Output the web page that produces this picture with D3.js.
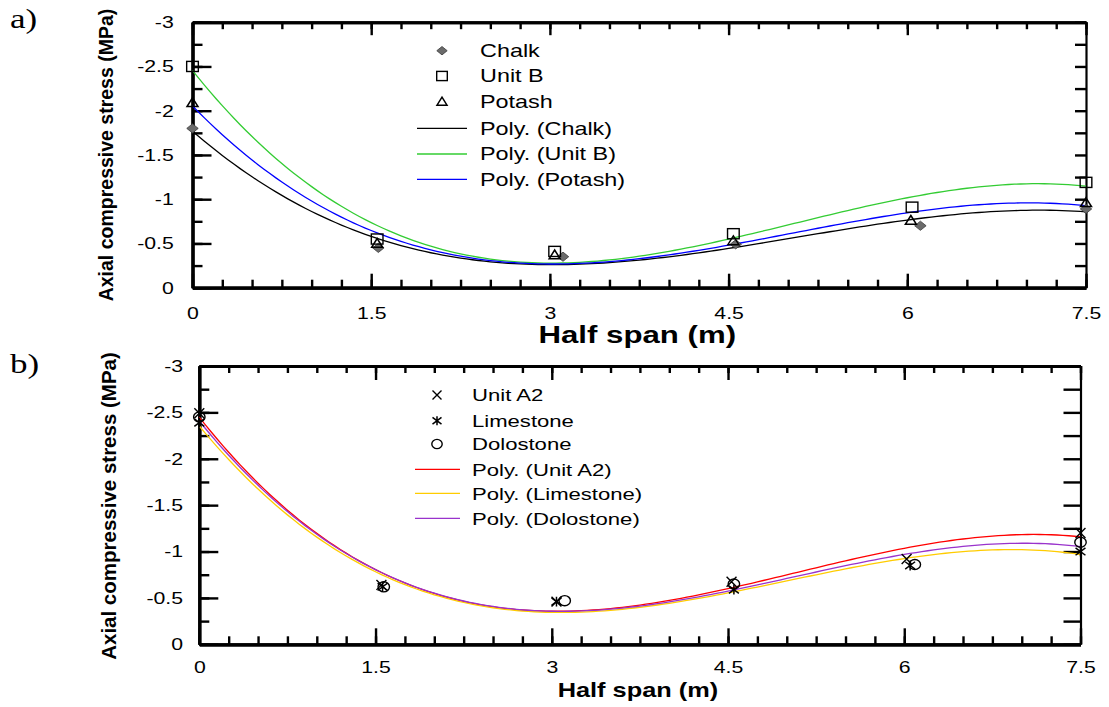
<!DOCTYPE html>
<html>
<head>
<meta charset="utf-8">
<script src="https://cdn.jsdelivr.net/npm/d3@7"></script>
<style>
  html, body { margin: 0; padding: 0; background: #fff; }
  svg { display: block; }
  text { font-family: "Liberation Sans", Arial, sans-serif; fill: #000; }
</style>
</head>
<body>
<svg id="chart" width="1109" height="707"></svg>
<script>
// ---- Panel a) : measured stress at each half-span station ----
const chalkX  = [0, 1.56, 3.11, 4.56, 6.11, 7.5];
const chalkY  = [-1.80, -0.45, -0.35, -0.49, -0.70, -0.89];
const unitBX  = [0, 1.55, 3.04, 4.54, 6.04, 7.5];
const unitBY  = [-2.50, -0.55, -0.41, -0.61, -0.91, -1.19];
const potashX = [0, 1.55, 3.04, 4.54, 6.03, 7.5];
const potashY = [-2.09, -0.50, -0.37, -0.53, -0.76, -0.96];

// ---- Panel b) ----
const unitA2X    = [0, 1.55, 3.04, 4.53, 6.02, 7.5];
const unitA2Y    = [-2.49, -0.64, -0.46, -0.675, -0.92, -1.20];
const limestoneX = [0, 1.56, 3.04, 4.55, 6.05, 7.5];
const limestoneY = [-2.39, -0.62, -0.46, -0.59, -0.85, -1.00];
const dolostoneX = [0, 1.57, 3.11, 4.55, 6.09, 7.5];
const dolostoneY = [-2.45, -0.62, -0.47, -0.65, -0.86, -1.10];

// ---- Axis ticks ----
const xTickValues = [0, 1.5, 3, 4.5, 6, 7.5];
const xTickLabels = ["0", "1.5", "3", "4.5", "6", "7.5"];
const yTickValues = [0, -0.5, -1, -1.5, -2, -2.5, -3];
const yTickLabels = ["0", "-0.5", "-1", "-1.5", "-2", "-2.5", "-3"];

const svg = d3.select("#chart");

// least-squares polynomial (Excel style "Poly." trendline)
function polyfit(xs, ys, deg) {
  const n = deg + 1;
  const A = Array.from({length: n}, () => new Array(n + 1).fill(0));
  for (let k = 0; k < xs.length; k++) {
    for (let i = 0; i < n; i++) {
      for (let j = 0; j < n; j++) A[i][j] += Math.pow(xs[k], i + j);
      A[i][n] += ys[k] * Math.pow(xs[k], i);
    }
  }
  for (let c = 0; c < n; c++) {
    let p = c;
    for (let r = c + 1; r < n; r++) if (Math.abs(A[r][c]) > Math.abs(A[p][c])) p = r;
    [A[c], A[p]] = [A[p], A[c]];
    for (let r = 0; r < n; r++) {
      if (r === c) continue;
      const f = A[r][c] / A[c][c];
      for (let j = c; j <= n; j++) A[r][j] -= f * A[c][j];
    }
  }
  const coef = A.map((row, i) => row[n] / row[i]);
  return x => coef.reduce((s, c, i) => s + c * Math.pow(x, i), 0);
}

// marker shapes drawn around (0,0)
function drawMarker(g, type, s) {
  if (type === "diamond") {
    g.append("path").attr("d", `M0,${-s*0.42}L${s*0.52},0L0,${s*0.42}L${-s*0.52},0Z`)
      .attr("fill", "#6b6b6b").attr("stroke", "#3a3a3a").attr("stroke-width", 0.8);
  } else if (type === "square") {
    g.append("rect").attr("x", -s*0.53).attr("y", -s*0.46).attr("width", s*1.06).attr("height", s*0.92)
      .attr("fill", "none").attr("stroke", "#000").attr("stroke-width", 1.4);
  } else if (type === "triangle") {
    g.append("path").attr("d", `M0,${-s*0.45}L${s*0.5},${s*0.35}L${-s*0.5},${s*0.35}Z`)
      .attr("fill", "none").attr("stroke", "#000").attr("stroke-width", 1.5);
  } else if (type === "cross") {
    const h = s * 0.45;
    g.append("path").attr("d", `M${-h},${-h}L${h},${h}M${-h},${h}L${h},${-h}`)
      .attr("stroke", "#000").attr("stroke-width", 1.4).attr("fill", "none");
  } else if (type === "star") {
    const h = s * 0.45;
    g.append("path").attr("d", `M${-h},${-h*0.75}L${h},${h*0.75}M${-h},${h*0.75}L${h},${-h*0.75}M0,${-h}L0,${h}`)
      .attr("stroke", "#000").attr("stroke-width", 1.5).attr("fill", "none");
  } else if (type === "circle") {
    g.append("ellipse").attr("rx", s*0.52).attr("ry", s*0.46)
      .attr("fill", "none").attr("stroke", "#000").attr("stroke-width", 1.4);
  }
}

function drawPanel(cfg) {
  const x = d3.scaleLinear().domain([0, 7.5]).range([cfg.left, cfg.right]);
  const y = d3.scaleLinear().domain([0, -3]).range([cfg.bottom, cfg.top]);
  const g = svg.append("g");
  const minorX = d3.range(0, 7.5001, 0.25);
  const minorY = d3.range(0, -3.0001, -0.25);
  const sx = 1.25;

  function styleAxis(sel, w) {
    sel.select(".domain").attr("stroke", "#000").attr("stroke-width", w);
    sel.selectAll(".tick line").attr("stroke", "#000").attr("stroke-width", 2.4);
  }

  // bottom axis: minor + major with labels
  g.append("g").attr("transform", `translate(0,${cfg.bottom})`)
    .call(d3.axisBottom(x).tickValues(minorX).tickSize(-cfg.xMinor).tickSizeOuter(0).tickFormat(""))
    .call(s => styleAxis(s, 3.2));
  const bx = g.append("g").attr("transform", `translate(0,${cfg.bottom})`)
    .call(d3.axisBottom(x).tickValues(xTickValues).tickSize(-cfg.xMajor).tickSizeOuter(0)
      .tickPadding(cfg.xPad).tickFormat((d, i) => xTickLabels[i]))
    .call(s => styleAxis(s, 3.2));
  bx.selectAll("text").attr("font-size", cfg.tickFont).attr("font-family", "Liberation Sans, Arial, sans-serif")
    .attr("transform", `scale(${sx},1)`);

  // top axis (ticks only)
  g.append("g").attr("transform", `translate(0,${cfg.top})`)
    .call(d3.axisTop(x).tickValues(minorX).tickSize(-cfg.topMinor).tickSizeOuter(0).tickFormat(""))
    .call(s => styleAxis(s, 3));
  g.append("g").attr("transform", `translate(0,${cfg.top})`)
    .call(d3.axisTop(x).tickValues(xTickValues).tickSize(-cfg.topMajor).tickSizeOuter(0).tickFormat(""))
    .call(s => styleAxis(s, 3));

  // left axis
  g.append("g").attr("transform", `translate(${cfg.left},0)`)
    .call(d3.axisLeft(y).tickValues(minorY).tickSize(-cfg.yMinor).tickSizeOuter(0).tickFormat(""))
    .call(s => styleAxis(s, 3.2));
  const ly = g.append("g").attr("transform", `translate(${cfg.left},0)`)
    .call(d3.axisLeft(y).tickValues(yTickValues).tickSize(-cfg.yMajor).tickSizeOuter(0)
      .tickPadding(cfg.yPad).tickFormat((d, i) => yTickLabels[i]))
    .call(s => styleAxis(s, 3.2));
  ly.selectAll("text").attr("font-size", cfg.tickFont).attr("font-family", "Liberation Sans, Arial, sans-serif")
    .attr("transform", `scale(${sx},1)`);

  // right axis
  g.append("g").attr("transform", `translate(${cfg.right},0)`)
    .call(d3.axisRight(y).tickValues(minorY).tickSize(-cfg.rightTick).tickSizeOuter(0).tickFormat(""))
    .call(s => styleAxis(s, 2.2));

  // trend lines
  const line = d3.line().x(d => x(d[0])).y(d => y(d[1]));
  const xsFine = d3.range(0, 7.5001, 0.05);
  cfg.series.forEach(s => {
    const f = polyfit(s.xs, s.ys, 3);
    g.append("path").datum(xsFine.map(v => [v, f(v)]))
      .attr("d", line).attr("fill", "none").attr("stroke", s.color).attr("stroke-width", 1.3);
  });

  // data markers
  cfg.series.forEach(s => {
    s.xs.forEach((v, i) => {
      const m = g.append("g").attr("transform", `translate(${x(v)},${y(s.ys[i])})`);
      drawMarker(m, s.marker, 11);
    });
  });

  // legend
  const lg = g.append("g");
  cfg.series.forEach((s, i) => {
    const cy = cfg.legend.rows[i];
    const m = lg.append("g").attr("transform", `translate(${cfg.legend.mx},${cy})`);
    drawMarker(m, s.marker, 10);
    lg.append("text").attr("transform", `translate(${cfg.legend.tx},${cy + 6.3}) scale(1.3,1)`)
      .attr("font-size", cfg.legend.font).text(s.name);
  });
  cfg.series.forEach((s, i) => {
    const cy = cfg.legend.rows[i + 3];
    lg.append("line").attr("x1", cfg.legend.l1).attr("x2", cfg.legend.l2).attr("y1", cy).attr("y2", cy)
      .attr("stroke", s.color).attr("stroke-width", 1.3);
    lg.append("text").attr("transform", `translate(${cfg.legend.tx},${cy + 6.3}) scale(1.3,1)`)
      .attr("font-size", cfg.legend.font).text(`Poly. (${s.name})`);
  });

  // axis titles
  g.append("text").attr("transform", `translate(${(cfg.left + cfg.right) / 2 - 2},${cfg.xTitleY}) scale(1.3,1)`)
    .attr("text-anchor", "middle").attr("font-weight", "bold").attr("font-size", cfg.xTitleFont)
    .text("Half span (m)");
  g.append("text").attr("transform", `translate(${cfg.yTitleX},${cfg.yTitleMid}) rotate(-90)`)
    .attr("text-anchor", "middle").attr("font-weight", "bold").attr("font-size", cfg.yTitleFont)
    .text("Axial compressive stress (MPa)");

  // panel letter
  g.append("text").attr("transform", `translate(10,${cfg.letterY}) scale(1.25,1)`)
    .attr("font-size", 28).style("font-family", "Liberation Serif, 'Times New Roman', serif").text(cfg.letter);
}

drawPanel({
  letter: "a)", letterY: 28,
  left: 192.5, right: 1086, top: 22.2, bottom: 287.7,
  xMajor: 14, xMinor: 8, topMajor: 13, topMinor: 7, yMajor: 19, yMinor: 10, rightTick: 11,
  xPad: 19, yPad: 15, tickFont: 17,
  xTitleY: 343, xTitleFont: 24, yTitleX: 113, yTitleMid: 155, yTitleFont: 19.5,
  legend: { mx: 442, tx: 480, l1: 417, l2: 467, font: 18,
            rows: [50.7, 76, 101.7, 128.3, 154, 179.3] },
  series: [
    { name: "Chalk",  xs: chalkX,  ys: chalkY,  marker: "diamond",  color: "#000000" },
    { name: "Unit B", xs: unitBX,  ys: unitBY,  marker: "square",   color: "#33cc33" },
    { name: "Potash", xs: potashX, ys: potashY, marker: "triangle", color: "#0000ff" }
  ]
});

drawPanel({
  letter: "b)", letterY: 373,
  left: 199.3, right: 1080.5, top: 366, bottom: 644.3,
  xMajor: 16, xMinor: 8, topMajor: 14, topMinor: 7, yMajor: 19, yMinor: 10, rightTick: 17,
  xPad: 17, yPad: 13, tickFont: 17,
  xTitleY: 697, xTitleFont: 19.5, yTitleX: 116, yTitleMid: 506, yTitleFont: 20.5,
  legend: { mx: 437, tx: 472, l1: 415, l2: 460, font: 17,
            rows: [395, 420.7, 444, 469.3, 493.3, 518.3] },
  series: [
    { name: "Unit A2",   xs: unitA2X,    ys: unitA2Y,    marker: "cross",  color: "#ff0000" },
    { name: "Limestone", xs: limestoneX, ys: limestoneY, marker: "star",   color: "#ffcc00" },
    { name: "Dolostone", xs: dolostoneX, ys: dolostoneY, marker: "circle", color: "#9933cc" }
  ]
});
</script>
</body>
</html>
